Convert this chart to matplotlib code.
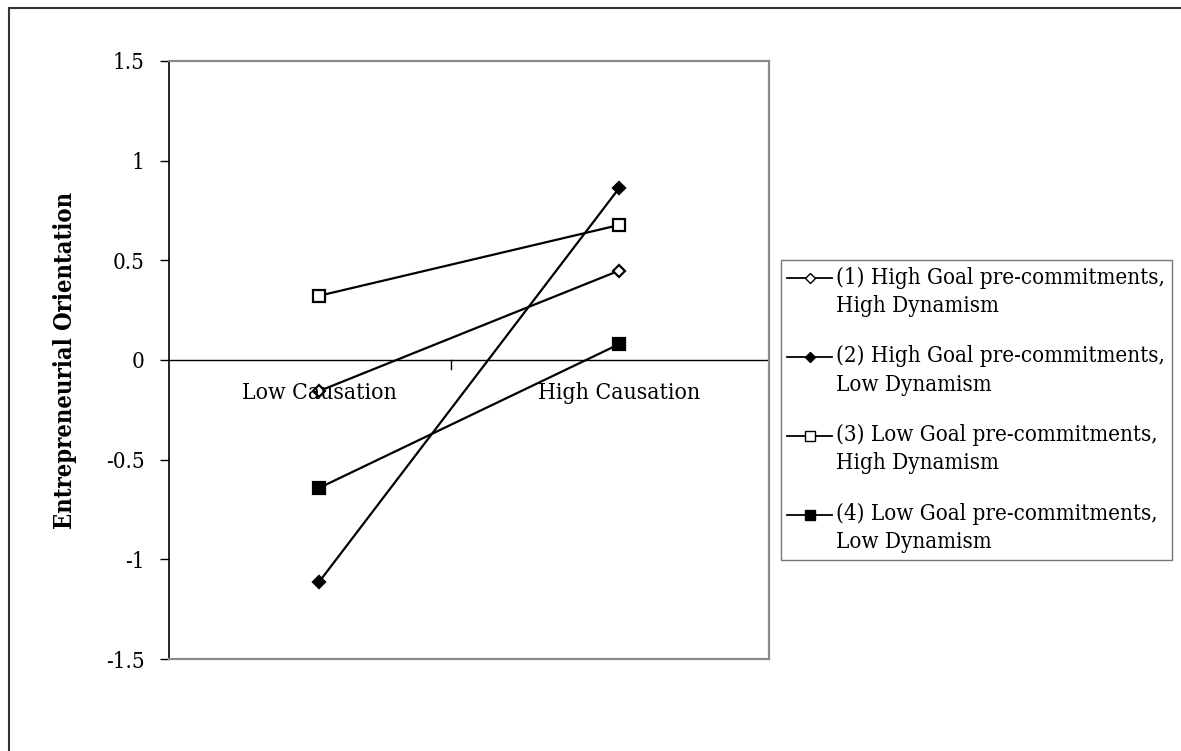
import numpy as np
import matplotlib.pyplot as plt
from matplotlib.lines import Line2D
from matplotlib.legend_handler import HandlerLine2D

categories = ['Low Causation', 'High Causation']
series_labels = [
    '(1) High Goal pre-commitments,\nHigh Dynamism',
    '(2) High Goal pre-commitments,\nLow Dynamism',
    '(3) Low Goal pre-commitments,\nHigh Dynamism',
    '(4) Low Goal pre-commitments,\nLow Dynamism',
]
series_values = [
    [-0.156, 0.448],
    [-1.114, 0.861],
    [0.322, 0.677],
    [-0.642, 0.079],
]
y_ticks = [-1.5, -1, -0.5, 0, 0.5, 1, 1.5]
y_tick_labels = ['-1.5', '-1', '-0.5', '0', '0.5', '1', '1.5']

plt.rcParams['font.family'] = ['DejaVu Serif']
plt.rcParams['font.stretch'] = 'condensed'
plt.rcParams['font.size'] = 16

styles = [
    dict(marker='D', markerfacecolor='white', markersize=6),
    dict(marker='D', markerfacecolor='black', markersize=6),
    dict(marker='s', markerfacecolor='white', markersize=8),
    dict(marker='s', markerfacecolor='black', markersize=8),
]


class FirstLineHandler(HandlerLine2D):
    """Puts the legend key level with the first line of a two-line label."""

    def create_artists(self, legend, orig_handle, xdescent, ydescent,
                       width, height, fontsize, trans):
        artists = super().create_artists(legend, orig_handle, xdescent, ydescent,
                                         width, height, fontsize, trans)
        for a in artists:
            a.set_ydata([y + 10.2 for y in a.get_ydata()])
        return artists


fig = plt.figure(figsize=(11.81, 7.51), dpi=100)
ax = fig.add_axes([0.1431, 0.1225, 0.508, 0.7963])

x = np.arange(len(categories))
for vals, lab, st in zip(series_values, series_labels, styles):
    ax.plot(x, vals, color='black', linewidth=1.6, markeredgecolor='black',
            markeredgewidth=1.6, label=lab, **st)

ax.set_xlim(-0.5, 1.5)
ax.set_ylim(-1.5, 1.5)
ax.set_yticks(y_ticks)
ax.set_yticklabels(y_tick_labels, fontsize=16)
ax.tick_params(axis='y', direction='out', length=6.5, width=1, pad=11)
ax.set_xticks([])

# category axis drawn at y = 0
ax.axhline(0, color='black', linewidth=1)
ax.plot([0.44, 0.44], [0, -0.045], color='black', linewidth=1)
for xi, cat in zip(x, categories):
    ax.text(xi, -0.168, cat, ha='center', va='center', fontsize=16.5)

for side in ['top', 'right', 'bottom']:
    ax.spines[side].set_color('#888888')
    ax.spines[side].set_linewidth(1.6)
ax.spines['left'].set_color('black')
ax.spines['left'].set_linewidth(1.2)

ax.set_ylabel('Entrepreneurial Orientation', fontsize=17, fontweight='bold', labelpad=21)

handles = [Line2D([0], [0], color='black', linewidth=1.3, markeredgecolor='black',
                  markeredgewidth=1.0,
                  **dict(st, markersize=st['markersize'] - 1)) for st in styles]
leg = fig.legend(handles, series_labels, loc='upper left', bbox_to_anchor=(0.661, 0.654),
                 frameon=True, fancybox=False, edgecolor='#555555', fontsize=16,
                 handlelength=2.0, handletextpad=0.2, labelspacing=1.29,
                 borderpad=0.3, borderaxespad=0,
                 handler_map={Line2D: FirstLineHandler()})
leg.get_frame().set_linewidth(1.0)
for t in leg.get_texts():
    t.set_linespacing(1.36)

# outer chart border (top and left edges visible)
fig.add_artist(Line2D([9 / 1181, 9 / 1181], [0, 1 - 8 / 751], transform=fig.transFigure,
                      color='#333333', linewidth=1.5))
fig.add_artist(Line2D([9 / 1181, 1], [1 - 8 / 751, 1 - 8 / 751], transform=fig.transFigure,
                      color='#333333', linewidth=1.5))

fig.savefig('out.png', dpi=100)
